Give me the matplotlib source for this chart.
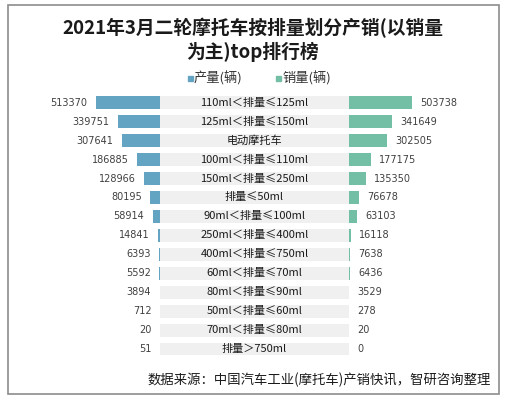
import matplotlib.pyplot as plt
from matplotlib.patches import Rectangle

plt.rcParams['font.family'] = ['Noto Sans CJK SC', 'DejaVu Sans']

categories = ['110ml＜排量≤125ml', '125ml＜排量≤150ml', '电动摩托车',
              '100ml＜排量≤110ml', '150ml＜排量≤250ml', '排量≤50ml',
              '90ml＜排量≤100ml', '250ml＜排量≤400ml', '400ml＜排量≤750ml',
              '60ml＜排量≤70ml', '80ml＜排量≤90ml', '50ml＜排量≤60ml',
              '70ml＜排量≤80ml', '排量＞750ml']
production = [513370, 339751, 307641, 186885, 128966, 80195, 58914,
              14841, 6393, 5592, 3894, 712, 20, 51]
sales = [503738, 341649, 302505, 177175, 135350, 76678, 63103,
         16118, 7638, 6436, 3529, 278, 20, 0]

W, H = 505, 397
fig = plt.figure(figsize=(W / 100, H / 100), dpi=100)

def px(x0, y0, x1, y1):
    # pixel box (top-left origin) -> figure fraction rect
    return [x0 / W, 1 - y1 / H, (x1 - x0) / W, (y1 - y0) / H]

# outer border
fig.patches.append(Rectangle((8 / W, 1 - 394 / H), 491 / W, 389 / H,
                             transform=fig.transFigure, fill=False,
                             edgecolor='#8c8c8c', linewidth=1.2))

fig.text(0.5, 1 - 28 / H, '2021年3月二轮摩托车按排量划分产销(以销量', ha='center',
         va='center', fontsize=13.5, fontweight='bold', color='#1a1a1a')
fig.text(0.5, 1 - 52 / H, '为主)top排行榜', ha='center', va='center',
         fontsize=13.5, fontweight='bold', color='#1a1a1a')

blue = '#62a4c2'
green = '#73bfa6'

# legend
fig.patches.append(Rectangle((188 / W, 1 - 80.5 / H), 5 / W, 5 / H,
                             transform=fig.transFigure, color=blue))
fig.text(194 / W, 1 - 78 / H, '产量(辆)', va='center', fontsize=9.5, color='#333333')
fig.patches.append(Rectangle((276 / W, 1 - 80.5 / H), 5 / W, 5 / H,
                             transform=fig.transFigure, color=green))
fig.text(282 / W, 1 - 78 / H, '销量(辆)', va='center', fontsize=9.5, color='#333333')

n = len(categories)
y_top = 102.7 - 18.95 / 2
y_bot = y_top + 18.95 * n
ys = list(range(n))
bh = 0.68
vmax = 513370 * 140 / 64  # 64 px for the largest bar

axl = fig.add_axes(px(20, y_top, 160, y_bot))
axm = fig.add_axes(px(160, y_top, 349, y_bot))
axr = fig.add_axes(px(349, y_top, 489, y_bot))

axl.barh(ys, production, height=bh, color=blue)
axl.set_xlim(vmax, 0)
axr.barh(ys, sales, height=bh, color=green)
axr.set_xlim(0, vmax)
axm.barh(ys, [1] * n, height=bh, color='#f0f0f0')
axm.set_xlim(0, 1)

for ax in (axl, axm, axr):
    ax.set_ylim(n - 0.5, -0.5)
    ax.axis('off')

for i, (p, s, c) in enumerate(zip(production, sales, categories)):
    axl.annotate(str(p), (p, i), xytext=(-6, 0), textcoords='offset points',
                 ha='right', va='center', fontsize=7, color='#404040',
                 family='DejaVu Sans')
    axr.annotate(str(s), (s, i), xytext=(6, 0), textcoords='offset points',
                 ha='left', va='center', fontsize=7, color='#404040',
                 family='DejaVu Sans')
    axm.text(0.5, i, c, ha='center', va='center', fontsize=8, color='#1a1a1a')

fig.text(491 / W, 1 - 380 / H, '数据来源：中国汽车工业(摩托车)产销快讯，智研咨询整理',
         ha='right', va='center', fontsize=9.6, color='#1a1a1a')

fig.savefig('out.png', dpi=100)
